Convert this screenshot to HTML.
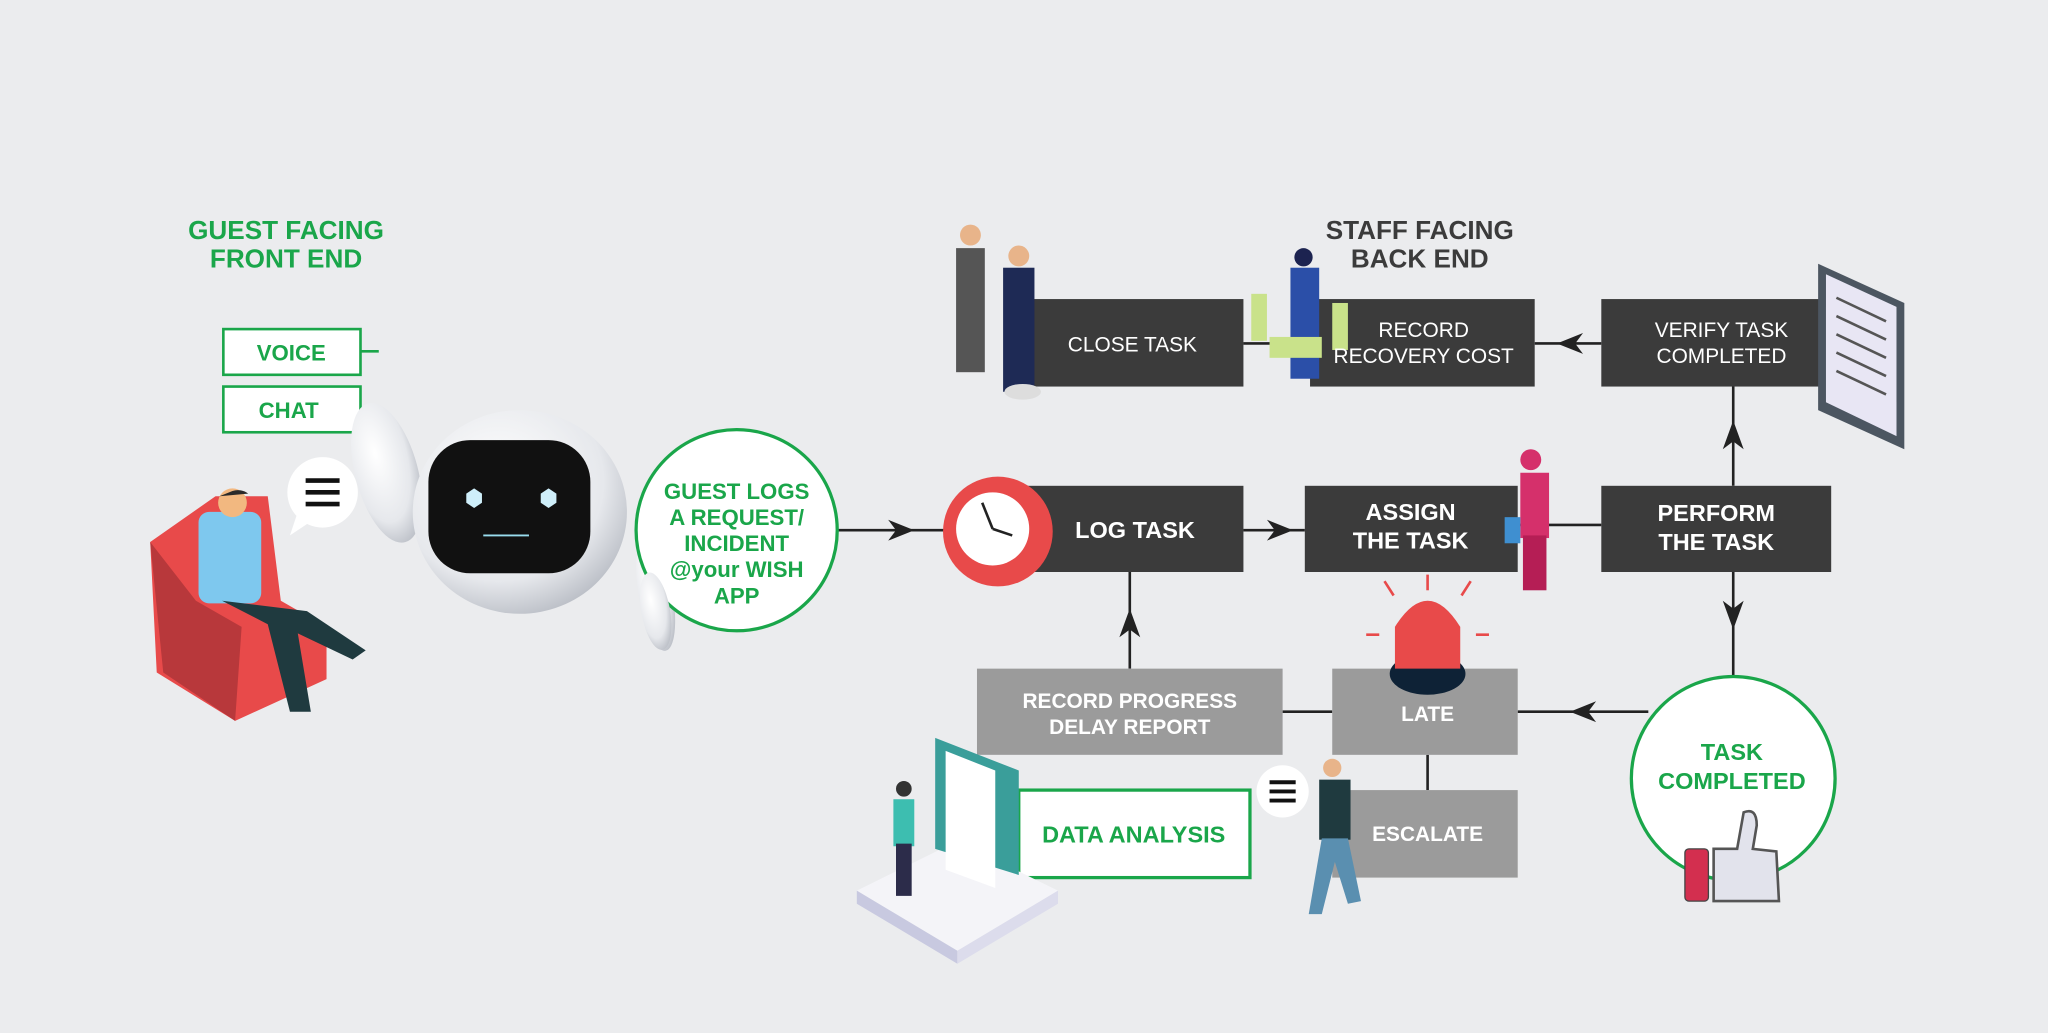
<!DOCTYPE html>
<html><head><meta charset="utf-8"><style>
html,body{margin:0;padding:0;background:#ebecee;}
svg{display:block;}
text{font-family:"Liberation Sans",sans-serif;font-weight:bold;}
</style></head><body>
<svg width="2048" height="1033" viewBox="0 0 1568 791" preserveAspectRatio="none" xmlns="http://www.w3.org/2000/svg">
<rect width="1568" height="791" fill="#ebecee"/>
<defs>
<radialGradient id="rb" cx="0.4" cy="0.35" r="0.7"><stop offset="0" stop-color="#ffffff"/><stop offset="0.7" stop-color="#e6e8ec"/><stop offset="1" stop-color="#b8bcc4"/></radialGradient>
</defs>
<g stroke="#222" stroke-width="2" fill="none">
<line x1="642" y1="406" x2="730" y2="406"/>
<path d="M680,398 L700,406 L680,414 L686,406Z" fill="#222" stroke="none"/>
<line x1="952" y1="406" x2="999" y2="406"/>
<path d="M970,398 L990,406 L970,414 L976,406Z" fill="#222" stroke="none"/>
<line x1="1162" y1="402" x2="1226" y2="402"/>
<line x1="1327" y1="438" x2="1327" y2="518"/>
<path d="M1319,460 L1327,482 L1335,460 L1327,466Z" fill="#222" stroke="none"/>
<line x1="1327" y1="296" x2="1327" y2="372"/>
<path d="M1319,344 L1327,322 L1335,344 L1327,338Z" fill="#222" stroke="none"/>
<line x1="1175" y1="263" x2="1226" y2="263"/>
<path d="M1212,255 L1192,263 L1212,271 L1206,263Z" fill="#222" stroke="none"/>
<line x1="952" y1="263" x2="1003" y2="263"/>
<line x1="1162" y1="545" x2="1262" y2="545"/>
<path d="M1222,537 L1202,545 L1222,553 L1216,545Z" fill="#222" stroke="none"/>
<line x1="982" y1="545" x2="1020" y2="545"/>
<line x1="865" y1="438" x2="865" y2="512"/>
<path d="M857,488 L865,466 L873,488 L865,482Z" fill="#222" stroke="none"/>
<line x1="1093" y1="578" x2="1093" y2="605"/>
</g>
<g stroke="#1aa64a" stroke-width="2" fill="none"><line x1="276" y1="269" x2="290" y2="269"/></g>
<g fill="#3b3b3b">
<rect x="790" y="229" width="162" height="67"/>
<rect x="1003" y="229" width="172" height="67"/>
<rect x="1226" y="229" width="168" height="67"/>
<rect x="776" y="372" width="176" height="66"/>
<rect x="999" y="372" width="163" height="66"/>
<rect x="1226" y="372" width="176" height="66"/>
</g>
<g fill="#9b9b9b">
<rect x="748" y="512" width="234" height="66"/>
<rect x="1020" y="512" width="142" height="66"/>
<rect x="1020" y="605" width="142" height="67"/>
</g>
<rect x="780" y="605" width="177" height="67" fill="#fff" stroke="#1aa64a" stroke-width="2.5"/>
<rect x="171" y="252" width="105" height="35" fill="#fff" stroke="#1aa64a" stroke-width="2"/>
<rect x="171" y="296" width="105" height="35" fill="#fff" stroke="#1aa64a" stroke-width="2"/>
<!-- handshake people -->
<g><rect x="732" y="190" width="22" height="95" fill="#555"/><circle cx="743" cy="180" r="8" fill="#e8b48a"/>
<rect x="768" y="205" width="24" height="95" fill="#1e2a55"/><circle cx="780" cy="196" r="8" fill="#e8b48a"/>
<ellipse cx="783" cy="300" rx="14" ry="6" fill="#ddd"/></g>
<g><rect x="988" y="205" width="22" height="85" fill="#2b4fa8"/><circle cx="998" cy="197" r="7" fill="#1c2350"/>
<rect x="958" y="225" width="12" height="36" fill="#c9e28a"/><rect x="972" y="258" width="40" height="16" fill="#c9e28a"/><rect x="1020" y="232" width="12" height="36" fill="#c9e28a"/></g>
<g transform="translate(1392,202)"><path d="M0,0 L66,30 L66,142 L0,112Z" fill="#4c5661"/><path d="M6,8 L60,33 L60,132 L6,106Z" fill="#e8e6f4"/>
<g stroke="#555" stroke-width="2"><line x1="14" y1="26" x2="52" y2="44"/><line x1="14" y1="40" x2="52" y2="58"/><line x1="14" y1="54" x2="52" y2="72"/><line x1="14" y1="68" x2="52" y2="86"/><line x1="14" y1="82" x2="52" y2="100"/></g></g>
<g><circle cx="764" cy="407" r="42" fill="#e84a4a"/><circle cx="760" cy="405" r="28" fill="#fff"/><line x1="760" y1="405" x2="752" y2="385" stroke="#222" stroke-width="2"/><line x1="760" y1="405" x2="775" y2="410" stroke="#222" stroke-width="2"/></g>
<g><circle cx="1172" cy="352" r="8" fill="#d5306b"/><rect x="1164" y="362" width="22" height="50" fill="#d5306b"/><rect x="1166" y="410" width="18" height="42" fill="#b51e55"/><rect x="1152" y="396" width="12" height="20" fill="#3f8fd0"/></g>
<g><ellipse cx="1093" cy="516" rx="29" ry="16" fill="#0e2236"/><path d="M1068,512 L1068,480 Q1093,440 1118,480 L1118,512Z" fill="#e84a4a"/>
<g stroke="#e84a4a" stroke-width="2"><line x1="1093" y1="440" x2="1093" y2="452"/><line x1="1060" y1="445" x2="1067" y2="456"/><line x1="1126" y1="445" x2="1119" y2="456"/><line x1="1046" y1="486" x2="1056" y2="486"/><line x1="1130" y1="486" x2="1140" y2="486"/></g></g>
<g><path d="M656,682 L733,644 L810,682 L733,728Z" fill="#f4f4f8"/><path d="M656,682 L733,728 L733,738 L656,692Z" fill="#c8c9e0"/><path d="M810,682 L733,728 L733,738 L810,692Z" fill="#dcdcec"/>
<path d="M716,565 L780,590 L780,670 L716,650Z" fill="#3a9e9a"/><path d="M724,575 L762,590 L762,680 L724,666Z" fill="#fff"/>
<rect x="684" y="612" width="16" height="36" fill="#3dbeb0"/><circle cx="692" cy="604" r="6" fill="#333"/><rect x="686" y="646" width="12" height="40" fill="#2c2c4a"/></g>
<g><circle cx="1020" cy="588" r="7" fill="#e8b48a"/><rect x="1010" y="597" width="24" height="46" fill="#1f3a3f"/><path d="M1012,642 L1032,642 L1042,690 L1032,692 L1022,660 L1012,700 L1002,700Z" fill="#5a8fb0"/>
<circle cx="982" cy="606" r="20" fill="#fff"/><g stroke="#111" stroke-width="3"><line x1="972" y1="599" x2="992" y2="599"/><line x1="972" y1="606" x2="992" y2="606"/><line x1="972" y1="613" x2="992" y2="613"/></g></g>
<g><path d="M115,415 L165,380 L205,380 L215,460 L250,480 L250,520 L180,552 L120,515Z" fill="#e84a4a"/><path d="M115,415 L125,515 L180,552 L185,480 L150,460Z" fill="#b8383b"/>
<rect x="152" y="392" width="48" height="70" rx="8" fill="#7ec8ee"/><circle cx="178" cy="385" r="11" fill="#f2b880"/><path d="M178,376 a11 9 0 0 1 12 2 L168,380Z" fill="#2a2a2a"/>
<path d="M170,460 L235,468 L280,498 L270,505 L228,485 L238,545 L222,545 L205,478Z" fill="#1f3a3f"/>
<circle cx="247" cy="377" r="27" fill="#fff"/><path d="M228,392 L222,410 L240,398Z" fill="#fff"/><g stroke="#111" stroke-width="3.5"><line x1="234" y1="368" x2="260" y2="368"/><line x1="234" y1="377" x2="260" y2="377"/><line x1="234" y1="386" x2="260" y2="386"/></g></g>
<!-- robot -->
<g><ellipse cx="296" cy="362" rx="24" ry="55" fill="url(#rb)" transform="rotate(-15 296 362)"/>
<ellipse cx="398" cy="392" rx="82" ry="78" fill="url(#rb)"/><rect x="328" y="337" width="124" height="102" rx="32" fill="#111"/>
<path d="M357,378 l6,-4 l6,4 v7 l-6,4 l-6,-4Z" fill="#cfeffa"/><path d="M414,378 l6,-4 l6,4 v7 l-6,4 l-6,-4Z" fill="#cfeffa"/><line x1="370" y1="410" x2="405" y2="410" stroke="#9de" stroke-width="1.5"/>
<ellipse cx="502" cy="455" rx="13" ry="44" fill="url(#rb)" transform="rotate(-10 502 455)"/></g>
<circle cx="564" cy="406" r="77" fill="#fff" stroke="#1aa64a" stroke-width="2.5"/>
<ellipse cx="502" cy="468" rx="11" ry="30" fill="url(#rb)" transform="rotate(-10 502 468)"/>
<circle cx="1327" cy="596" r="78" fill="#fff" stroke="#1aa64a" stroke-width="2.5"/>
<g><rect x="1290" y="650" width="18" height="40" rx="3" fill="#d32f4f" stroke="#444"/><path d="M1312,650 L1330,650 L1335,622 Q1345,618 1345,632 L1342,650 L1360,652 L1362,690 L1312,690Z" fill="#e2e3ec" stroke="#555" stroke-width="2"/></g>
<g fill="#1aa64a" text-anchor="middle">
<text x="219" y="183" font-size="20">GUEST FACING</text>
<text x="219" y="205" font-size="20">FRONT END</text>
<text x="223" y="276" font-size="17">VOICE</text>
<text x="221" y="320" font-size="17">CHAT</text>
<text x="564" y="382" font-size="17">GUEST LOGS</text>
<text x="564" y="402" font-size="17">A REQUEST/</text>
<text x="564" y="422" font-size="17">INCIDENT</text>
<text x="564" y="442" font-size="17">@your WISH</text>
<text x="564" y="462" font-size="17">APP</text>
<text x="1326" y="582" font-size="18">TASK</text>
<text x="1326" y="604" font-size="18">COMPLETED</text>
<text x="868" y="645" font-size="18">DATA ANALYSIS</text>
</g>
<g fill="#3b3b3b" text-anchor="middle">
<text x="1087" y="183" font-size="20">STAFF FACING</text>
<text x="1087" y="205" font-size="20">BACK END</text>
</g>
<g fill="#fff" text-anchor="middle" font-size="16">
<text x="867" y="269" style="font-weight:normal">CLOSE TASK</text>
<text x="1090" y="258" style="font-weight:normal">RECORD</text>
<text x="1090" y="278" style="font-weight:normal">RECOVERY COST</text>
<text x="1318" y="258" style="font-weight:normal">VERIFY TASK</text>
<text x="1318" y="278" style="font-weight:normal">COMPLETED</text>
<text x="869" y="412" font-size="18">LOG TASK</text>
<text x="1080" y="398" font-size="18">ASSIGN</text>
<text x="1080" y="420" font-size="18">THE TASK</text>
<text x="1314" y="399" font-size="18">PERFORM</text>
<text x="1314" y="421" font-size="18">THE TASK</text>
<text x="865" y="542">RECORD PROGRESS</text>
<text x="865" y="562">DELAY REPORT</text>
<text x="1093" y="552">LATE</text>
<text x="1093" y="644">ESCALATE</text>
</g>
</svg>
</body></html>
